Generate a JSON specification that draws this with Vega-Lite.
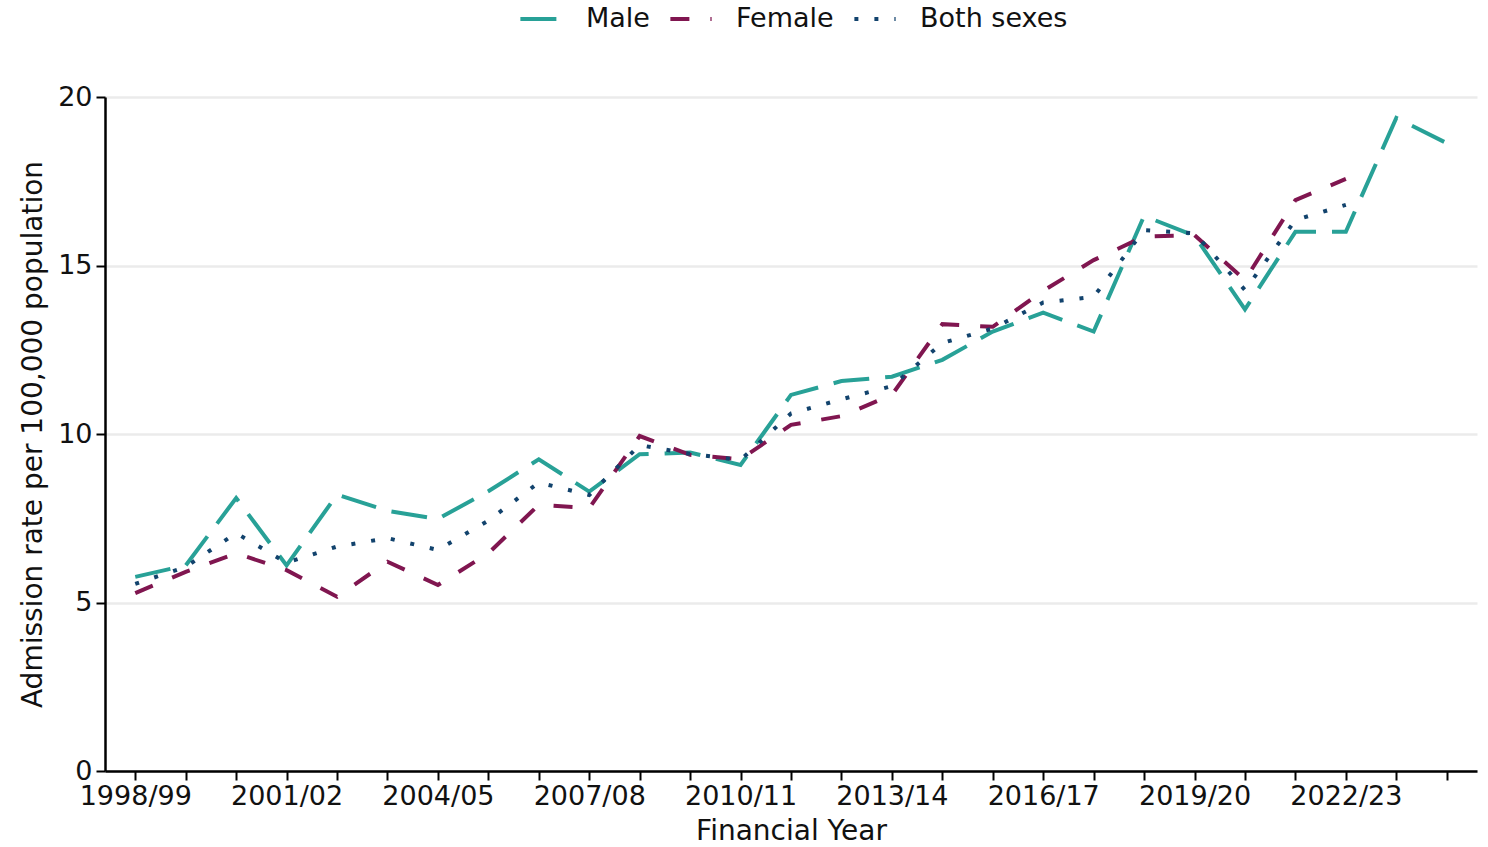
{
  "$schema": "https://vega.github.io/schema/vega-lite/v6.json",
  "autosize": {"type": "none"},
  "width": 1372,
  "height": 674,
  "padding": {"left": 105, "top": 97, "right": 11, "bottom": 76},
  "background": "white",
  "config": {
    "font": "DejaVu Sans",
    "view": {"stroke": null},
    "axis": {"labelFont": "DejaVu Sans", "titleFont": "DejaVu Sans", "labelFontSize": 27, "titleFontSize": 28, "titleFontWeight": "normal", "labelColor": "#111", "titleColor": "#111", "domainColor": "#000", "domainWidth": 2.5, "tickColor": "#000", "tickWidth": 2, "tickSize": 9}
  },
  "data": {"values": [
    {"year": "1998/99", "sex": "Male", "rate": 5.76},
    {"year": "1999/00", "sex": "Male", "rate": 6.1},
    {"year": "2000/01", "sex": "Male", "rate": 8.1},
    {"year": "2001/02", "sex": "Male", "rate": 6.1},
    {"year": "2002/03", "sex": "Male", "rate": 8.2},
    {"year": "2003/04", "sex": "Male", "rate": 7.72},
    {"year": "2004/05", "sex": "Male", "rate": 7.48},
    {"year": "2005/06", "sex": "Male", "rate": 8.3},
    {"year": "2006/07", "sex": "Male", "rate": 9.25},
    {"year": "2007/08", "sex": "Male", "rate": 8.29},
    {"year": "2008/09", "sex": "Male", "rate": 9.4},
    {"year": "2009/10", "sex": "Male", "rate": 9.45},
    {"year": "2010/11", "sex": "Male", "rate": 9.08},
    {"year": "2011/12", "sex": "Male", "rate": 11.16},
    {"year": "2012/13", "sex": "Male", "rate": 11.57},
    {"year": "2013/14", "sex": "Male", "rate": 11.7},
    {"year": "2014/15", "sex": "Male", "rate": 12.2},
    {"year": "2015/16", "sex": "Male", "rate": 13.04},
    {"year": "2016/17", "sex": "Male", "rate": 13.6},
    {"year": "2017/18", "sex": "Male", "rate": 13.04},
    {"year": "2018/19", "sex": "Male", "rate": 16.47},
    {"year": "2019/20", "sex": "Male", "rate": 15.88},
    {"year": "2020/21", "sex": "Male", "rate": 13.7},
    {"year": "2021/22", "sex": "Male", "rate": 16.0},
    {"year": "2022/23", "sex": "Male", "rate": 16.0},
    {"year": "2023/24", "sex": "Male", "rate": 19.38},
    {"year": "2024/25", "sex": "Male", "rate": 18.63},
    {"year": "1998/99", "sex": "Female", "rate": 5.28},
    {"year": "1999/00", "sex": "Female", "rate": 5.91},
    {"year": "2000/01", "sex": "Female", "rate": 6.46},
    {"year": "2001/02", "sex": "Female", "rate": 5.96},
    {"year": "2002/03", "sex": "Female", "rate": 5.17},
    {"year": "2003/04", "sex": "Female", "rate": 6.21},
    {"year": "2004/05", "sex": "Female", "rate": 5.52},
    {"year": "2005/06", "sex": "Female", "rate": 6.46},
    {"year": "2006/07", "sex": "Female", "rate": 7.9},
    {"year": "2007/08", "sex": "Female", "rate": 7.8},
    {"year": "2008/09", "sex": "Female", "rate": 9.94},
    {"year": "2009/10", "sex": "Female", "rate": 9.38},
    {"year": "2010/11", "sex": "Female", "rate": 9.25},
    {"year": "2011/12", "sex": "Female", "rate": 10.27},
    {"year": "2012/13", "sex": "Female", "rate": 10.53},
    {"year": "2013/14", "sex": "Female", "rate": 11.16},
    {"year": "2014/15", "sex": "Female", "rate": 13.26},
    {"year": "2015/16", "sex": "Female", "rate": 13.18},
    {"year": "2016/17", "sex": "Female", "rate": 14.25},
    {"year": "2017/18", "sex": "Female", "rate": 15.16},
    {"year": "2018/19", "sex": "Female", "rate": 15.86},
    {"year": "2019/20", "sex": "Female", "rate": 15.9},
    {"year": "2020/21", "sex": "Female", "rate": 14.57},
    {"year": "2021/22", "sex": "Female", "rate": 16.94},
    {"year": "2022/23", "sex": "Female", "rate": 17.57},
    {"year": "1998/99", "sex": "Both sexes", "rate": 5.55},
    {"year": "1999/00", "sex": "Both sexes", "rate": 6.06},
    {"year": "2000/01", "sex": "Both sexes", "rate": 7.06},
    {"year": "2001/02", "sex": "Both sexes", "rate": 6.18},
    {"year": "2002/03", "sex": "Both sexes", "rate": 6.66},
    {"year": "2003/04", "sex": "Both sexes", "rate": 6.91},
    {"year": "2004/05", "sex": "Both sexes", "rate": 6.56},
    {"year": "2005/06", "sex": "Both sexes", "rate": 7.43},
    {"year": "2006/07", "sex": "Both sexes", "rate": 8.56},
    {"year": "2007/08", "sex": "Both sexes", "rate": 8.19},
    {"year": "2008/09", "sex": "Both sexes", "rate": 9.67},
    {"year": "2009/10", "sex": "Both sexes", "rate": 9.41},
    {"year": "2010/11", "sex": "Both sexes", "rate": 9.23},
    {"year": "2011/12", "sex": "Both sexes", "rate": 10.61},
    {"year": "2012/13", "sex": "Both sexes", "rate": 11.03},
    {"year": "2013/14", "sex": "Both sexes", "rate": 11.42},
    {"year": "2014/15", "sex": "Both sexes", "rate": 12.7},
    {"year": "2015/16", "sex": "Both sexes", "rate": 13.13},
    {"year": "2016/17", "sex": "Both sexes", "rate": 13.9},
    {"year": "2017/18", "sex": "Both sexes", "rate": 14.07},
    {"year": "2018/19", "sex": "Both sexes", "rate": 16.05},
    {"year": "2019/20", "sex": "Both sexes", "rate": 15.96},
    {"year": "2020/21", "sex": "Both sexes", "rate": 14.27},
    {"year": "2021/22", "sex": "Both sexes", "rate": 16.35},
    {"year": "2022/23", "sex": "Both sexes", "rate": 16.8}
  ]},
  "mark": {"type": "line", "strokeWidth": 4, "strokeCap": "butt"},
  "encoding": {
    "x": {
      "field": "year", "type": "ordinal", "title": "Financial Year",
      "scale": {"type": "point", "padding": 0.6, "domain": ["1998/99","1999/00","2000/01","2001/02","2002/03","2003/04","2004/05","2005/06","2006/07","2007/08","2008/09","2009/10","2010/11","2011/12","2012/13","2013/14","2014/15","2015/16","2016/17","2017/18","2018/19","2019/20","2020/21","2021/22","2022/23","2023/24","2024/25"]},
      "axis": {"labelAngle": 0, "labelOverlap": false, "labelPadding": 3, "titlePadding": 8,
        "labelExpr": "indexof(['1998/99','2001/02','2004/05','2007/08','2010/11','2013/14','2016/17','2019/20','2022/23'], datum.value) >= 0 ? datum.label : ''",
        "grid": false}
    },
    "y": {
      "field": "rate", "type": "quantitative", "title": "Admission rate per 100,000 population",
      "scale": {"domain": [0, 20]},
      "axis": {"values": [0, 5, 10, 15, 20], "grid": true, "gridColor": "#ebebeb", "gridWidth": 2.5, "labelPadding": 4, "titlePadding": 10}
    },
    "color": {
      "field": "sex", "type": "nominal",
      "scale": {"domain": ["Male", "Female", "Both sexes"], "range": ["#28A197", "#801650", "#12436D"]},
      "legend": {"title": null, "orient": "none", "direction": "horizontal", "legendX": 413, "legendY": -101, "symbolSize": 1700, "symbolStrokeWidth": 4, "labelFontSize": 27, "labelFont": "DejaVu Sans", "labelColor": "#111", "labelOffset": 22, "columnPadding": 12, "symbolType": "stroke"}
    },
    "strokeDash": {
      "field": "sex", "type": "nominal",
      "scale": {"domain": ["Male", "Female", "Both sexes"], "range": [[36, 16], [19, 21], [4, 16]]},
      "legend": {"title": null, "orient": "none", "direction": "horizontal", "legendX": 413, "legendY": -101, "symbolSize": 1700, "symbolStrokeWidth": 4, "labelFontSize": 27, "labelFont": "DejaVu Sans", "labelColor": "#111", "labelOffset": 22, "columnPadding": 12, "symbolType": "stroke"}
    }
  }
}
